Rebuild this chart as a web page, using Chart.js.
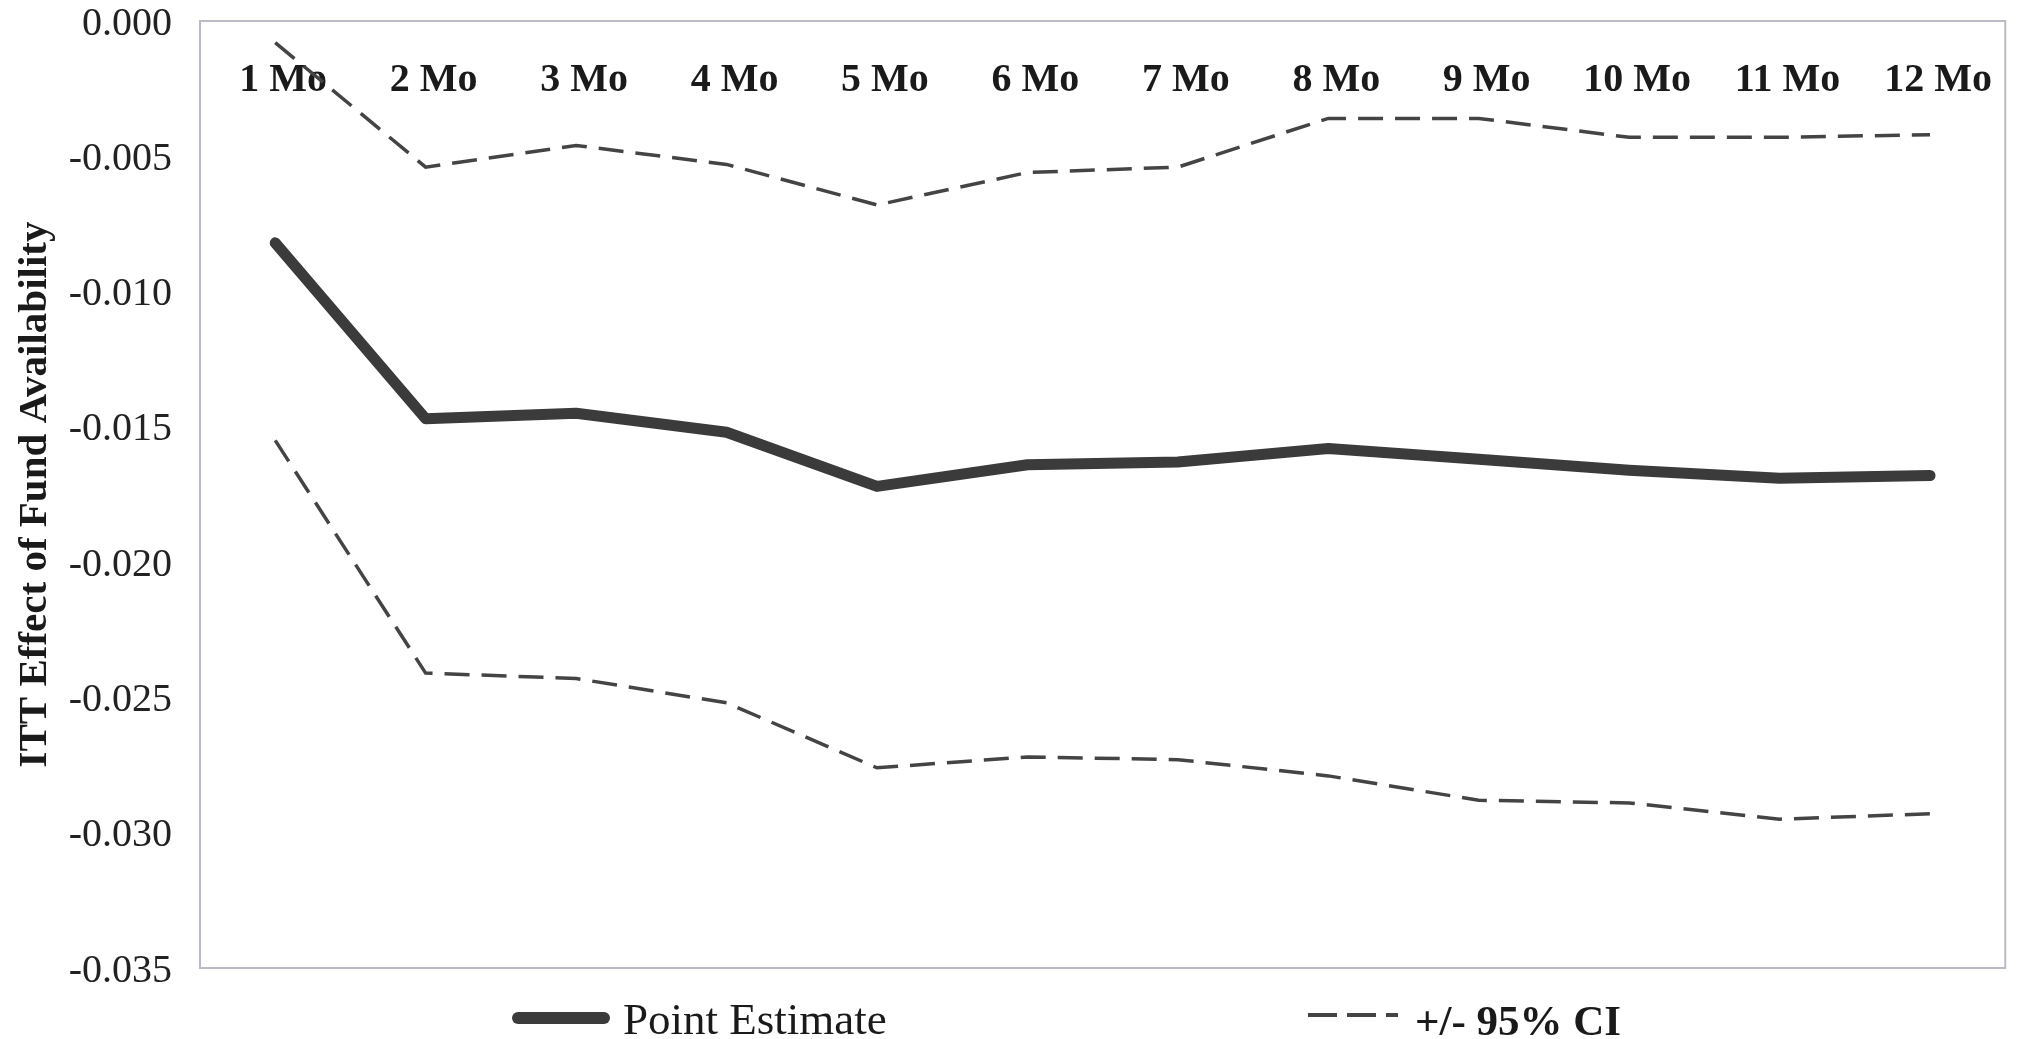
<!DOCTYPE html>
<html>
<head>
<meta charset="utf-8">
<script src="https://cdn.jsdelivr.net/npm/chart.js@4.4.1/dist/chart.umd.min.js"></script>
<style>
  html, body { margin: 0; padding: 0; background: #ffffff; overflow: hidden; }
  #wrap { position: relative; width: 2020px; height: 1039px; }
  #chart { position: absolute; left: 0; top: 0; }
  .legend-text { position: absolute; color: #1a1a1a; white-space: nowrap; }
  .lg-solid { position: absolute; left: 512px; top: 1012px; width: 98px; height: 12px;
              border-radius: 6px; background: #3b3b3b; }
  .lg-dash { position: absolute; left: 1308px; top: 1013px; width: 90px; height: 4px;
             background: repeating-linear-gradient(to right, #444 0 29px, transparent 29px 39px); }
</style>
</head>
<body>
<div id="wrap">
  <canvas id="chart" width="2020" height="1039"></canvas>
  <div class="lg-solid"></div>
  <span class="legend-text" style="left:623px; top:997px; font:45px/45px 'Liberation Serif', 'Times New Roman', serif;">Point Estimate</span>
  <div class="lg-dash"></div>
  <span class="legend-text" style="left:1415px; top:999px; font:bold 43px/43px 'Liberation Serif', 'Times New Roman', serif;">+/- 95% CI</span>
</div>
<script>
// Months after fund availability
const months = ['1 Mo', '2 Mo', '3 Mo', '4 Mo', '5 Mo', '6 Mo', '7 Mo', '8 Mo', '9 Mo', '10 Mo', '11 Mo', '12 Mo'];

// ITT point estimates by month
const pointEstimate = [-0.0082, -0.0147, -0.0145, -0.0152, -0.0172, -0.0164, -0.0163, -0.0158, -0.0162, -0.0166, -0.0169, -0.0168];

// Upper and lower bounds of the 95% confidence interval
const upperCI = [-0.0008, -0.0054, -0.0046, -0.0053, -0.0068, -0.0056, -0.0054, -0.0036, -0.0036, -0.0043, -0.0043, -0.0042];
const lowerCI = [-0.0155, -0.0241, -0.0243, -0.0252, -0.0276, -0.0272, -0.0273, -0.0279, -0.0288, -0.0289, -0.0295, -0.0293];

// Y-axis tick range
const yMin = -0.035;
const yMax = 0;
const yStep = 0.005;

const serif = "'Liberation Serif', 'Times New Roman', serif";

// Light frame around the plot area
const plotFrame = {
  id: 'plotFrame',
  beforeDatasetsDraw(chart) {
    const { ctx, chartArea: a } = chart;
    ctx.save();
    ctx.strokeStyle = '#babbc4';
    ctx.lineWidth = 2;
    ctx.strokeRect(a.left, a.top, a.right - a.left, a.bottom - a.top);
    ctx.restore();
  }
};

new Chart(document.getElementById('chart'), {
  type: 'line',
  data: {
    labels: months,
    datasets: [
      {
        label: 'Point Estimate',
        data: pointEstimate,
        borderColor: '#3b3b3b',
        borderWidth: 11,
        borderCapStyle: 'round',
        borderJoinStyle: 'round',
        pointRadius: 0,
        tension: 0,
        fill: false
      },
      {
        label: '+/- 95% CI',
        data: upperCI,
        borderColor: '#444444',
        borderWidth: 3.5,
        borderDash: [25, 12],
        pointRadius: 0,
        tension: 0,
        fill: false
      },
      {
        label: '+/- 95% CI (lower)',
        data: lowerCI,
        borderColor: '#444444',
        borderWidth: 3.5,
        borderDash: [25, 12],
        pointRadius: 0,
        tension: 0,
        fill: false
      }
    ]
  },
  options: {
    responsive: false,
    animation: false,
    devicePixelRatio: 1,
    layout: { padding: { top: 21, right: 2, bottom: 71, left: 0 } },
    plugins: {
      legend: { display: false },
      tooltip: { enabled: false }
    },
    scales: {
      x: {
        type: 'category',
        position: { y: 0 },
        offset: true,
        grid: { display: false, drawTicks: false },
        border: { display: false },
        ticks: {
          padding: 36,
          labelOffset: 8,
          maxRotation: 0,
          autoSkip: false,
          color: '#1a1a1a',
          font: { family: serif, size: 40, weight: 'bold' }
        }
      },
      y: {
        min: yMin,
        max: yMax,
        grid: { display: false, drawTicks: false },
        border: { display: false },
        afterFit(scale) {
          scale.width = 200;
          scale.paddingTop = 0;
          scale.paddingBottom = 0;
        },
        ticks: {
          stepSize: yStep,
          padding: 28,
          labelOffset: 3,
          color: '#222222',
          font: { family: serif, size: 40, lineHeight: 1 },
          callback: (v) => Number(v).toFixed(3)
        },
        title: {
          display: true,
          text: 'ITT Effect of Fund Availability',
          color: '#1a1a1a',
          padding: { top: 11, bottom: 0 },
          font: { family: serif, size: 41, weight: 'bold' }
        }
      }
    }
  },
  plugins: [plotFrame]
});
</script>
</body>
</html>
